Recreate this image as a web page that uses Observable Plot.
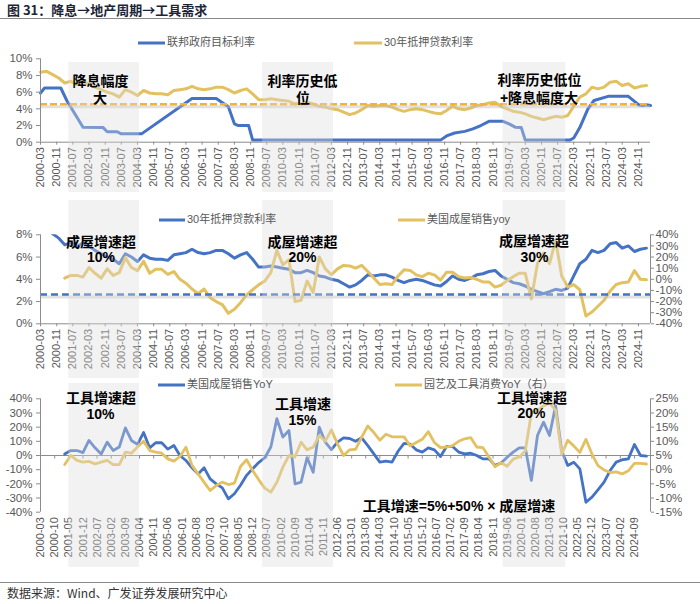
<!DOCTYPE html>
<html><head><meta charset="utf-8">
<script src="https://cdn.jsdelivr.net/npm/d3@7"></script>
<script src="https://cdn.jsdelivr.net/npm/@observablehq/plot@0.6"></script>
<style>
body{margin:0;background:#fff;}
#root{position:relative;width:700px;height:604px;overflow:hidden;font-family:"Liberation Sans",Arial,"Noto Sans CJK SC",sans-serif;}
.panel{position:absolute;left:0;}
.ann{position:absolute;transform:translate(-50%,-50%);font-weight:bold;font-size:14px;color:#000;white-space:nowrap;font-family:"Liberation Sans","Noto Sans CJK SC",sans-serif;line-height:1.2;}
.leg{position:absolute;font-size:11px;color:#595959;white-space:nowrap;font-family:"Liberation Sans","Noto Sans CJK SC",sans-serif;line-height:1.2;transform:translateY(-50%);}
.legline{position:absolute;height:3px;transform:translateY(-50%);}
.hline{position:absolute;left:0;width:700px;height:0;border-top:1.5px solid #8a8a8a;}
</style></head><body><div id="root"></div>
<script>
// ---------- data ----------
const ticksA = ["2000-03","2000-11","2001-07","2002-03","2002-11","2003-07","2004-03","2004-11","2005-07","2006-03","2006-11","2007-07","2008-03","2008-11","2009-07","2010-03","2010-11","2011-07","2012-03","2012-11","2013-07","2014-03","2014-11","2015-07","2016-03","2016-11","2017-07","2018-03","2018-11","2019-07","2020-03","2020-11","2021-07","2022-03","2022-11","2023-07","2024-03","2024-11"];
const ticksB = ["2000-03","2000-10","2001-05","2001-12","2002-07","2003-02","2003-09","2004-04","2004-11","2005-06","2006-01","2006-08","2007-03","2007-10","2008-05","2008-12","2009-07","2010-02","2010-09","2011-04","2011-11","2012-06","2013-01","2013-08","2014-03","2014-10","2015-05","2015-12","2016-07","2017-02","2017-09","2018-04","2018-11","2019-06","2020-01","2020-08","2021-03","2021-10","2022-05","2022-12","2023-07","2024-02","2024-09"];
const shadeStart = ["2001-05","2009-05","2019-04"];
const shadeEnd   = ["2004-04","2012-04","2021-11"];

// Fed funds target rate (%)
const fedDates = ["2000-03","2000-05","2001-01","2001-04","2001-07","2001-09","2001-12","2002-10","2002-12","2003-05","2003-07","2004-05","2006-06","2007-06","2007-12","2008-03","2008-05","2008-10","2008-12","2016-09","2016-12","2017-04","2017-09","2018-01","2018-05","2018-09","2019-04","2019-07","2019-10","2020-01","2020-03","2022-01","2022-03","2022-06","2022-10","2023-01","2023-08","2024-06","2024-11","2025-01","2025-03","2025-05"];
const fedRate  = [5.9,6.5,6.5,5.0,3.8,3.0,1.8,1.75,1.25,1.25,1.0,1.0,5.25,5.25,4.25,2.2,2.0,2.0,0.25,0.25,0.75,1.1,1.3,1.6,2.0,2.5,2.5,2.2,1.8,1.75,0.25,0.25,0.5,1.75,4.0,5.0,5.5,5.5,4.5,4.4,4.5,4.4];

// 30-year mortgage rate (%), quarterly from 2000-03
const mortStart = "2000-03";
const mortRate = [8.4,8.5,8.1,7.7,7.1,7.3,6.9,7.3,7.0,6.6,
 6.3,6.0,5.8,5.4,6.3,6.0,5.6,6.2,5.9,5.8,
 5.8,5.7,6.2,6.3,6.4,6.7,6.4,6.3,6.4,6.6,
 6.6,6.3,5.9,6.2,6.4,5.8,5.1,5.1,5.2,5.1,
 5.0,4.9,4.6,4.6,4.8,4.6,4.3,4.2,4.0,3.9,
 3.6,3.3,3.5,3.9,4.4,4.3,4.4,4.4,4.2,3.9,
 3.7,3.9,4.0,3.9,3.7,3.5,3.4,3.8,4.3,4.0,
 3.9,4.1,4.4,4.5,4.7,4.8,4.3,4.0,3.7,3.6,
 3.4,3.1,2.9,2.7,2.9,3.1,3.0,3.2,4.3,5.4,
 5.8,6.6,6.4,6.6,7.2,7.3,6.8,7.0,6.5,6.7,6.8];

// US existing home sales YoY (%), quarterly from 2001-03
const homeStart = "2001-03";
const homeSales = [1,3.5,3.5,2,10.6,5.4,1,9.4,3.5,6,
 19.5,10.6,7.8,16.2,5.4,9,9,4.5,7,0,
 -3.5,-8.7,-13,-8.7,-16.5,-20,-22.8,-30.6,-27,-21,
 -14,-9.4,-5,-1.6,6,26,13,17.6,-20,-18.8,
 -1.6,-11.8,20,9.4,4.2,9.4,12.5,12,10,12.5,
 7,1.2,-4.7,-4,-4.7,3,8.5,8,4,2.4,
 5.4,4,-0.7,6.4,6.4,2.4,1.2,1.6,0,-2.4,
 -2.4,-7,-5.4,-1.2,2.4,5.4,5.4,-17.6,14.1,23.5,
 14.1,35,3,-7,-4.7,-9.4,-33,-29.4,-24.2,-18.8,
 -10.6,-4.7,-3,-2.4,7.8,0,-0.5];

// Garden & tools consumption YoY (%, right axis), quarterly from 2001-03
const toolStart = "2001-03";
const toolSales = [1.8,5,3.25,2.65,2.9,2.05,2.65,3.25,1.8,1.8,
 6.2,5.8,8,10.05,6.75,6.2,5.8,3.8,3,4.65,
 7.95,1.5,-1.5,-4.5,-7.35,-5.6,-4.4,-5.25,-4.75,1.1,
 3.5,-0.3,-3.5,-6.5,-7.95,-4.4,0.9,5,4.65,9.7,
 7,7.95,12.05,10.05,14.05,9.1,5,7,7.2,11.5,
 15.4,13.1,10.4,12.5,11.6,11.6,11.6,8.4,9.6,10.7,
 13.4,9.6,7.8,8,8.5,10,10.9,11.3,8,7.8,
 4.5,1,2.5,1.2,3.7,4.5,6.6,20,21,22.5,
 23.5,21,5.5,10.4,8.4,6.1,10.7,5.5,1.4,-0.1,
 -1,-0.8,-1.5,-0.4,2.2,2.2,2];

const panel1Ref = 4.55;   // orange dashed reference (%)
const panel2Ref = 2.64;   // blue dashed reference (left %)

// ---------- helpers ----------
const parse = d3.utcParse("%Y-%m");
const fmt = d3.utcFormat("%Y-%m");
const X0 = parse("2000-03"), X1 = parse("2025-05");
const quarterly = (start, vals) => vals.map((v, i) => ({date: d3.utcMonth.offset(parse(start), 3 * i), value: v}));
const fed = fedDates.map((d, i) => ({date: parse(d), value: fedRate[i]}));
const mort = quarterly(mortStart, mortRate);
const home = quarterly(homeStart, homeSales);
const tool = quarterly(toolStart, toolSales);
const shadesFor = (lo, hi) => shadeStart.map((s, i) => ({a: parse(s), b: parse(shadeEnd[i]), lo, hi}));

const BLUE = "#4472c4", GOLD = "#e3c160", AX = "#8c8c8c", TXT = "#595959";
const baseStyle = {fontFamily: "Liberation Sans, Arial, sans-serif", color: TXT, background: "transparent", overflow: "visible"};
const shadeMark = (lo, hi) => Plot.rect(shadesFor(lo, hi), {x1: "a", x2: "b", y1: "lo", y2: "hi", fill: "#dcdcdc", fillOpacity: 0.37});
const xAxisRot = (ticks, size, pad) => Plot.axisX(ticks.map(parse), {tickFormat: fmt, tickRotate: -90, tickSize: size, tickPadding: pad, fontSize: 11, stroke: AX, fill: TXT});

// ---------- panel 1 ----------
const p1 = Plot.plot({
  width: 700, height: 170, marginLeft: 40, marginRight: 50, marginTop: 28.3, marginBottom: 58.3,
  style: baseStyle,
  x: {type: "utc", domain: [X0, X1]},
  y: {domain: [0, 10]},
  marks: [
    Plot.line(mort, {x: "date", y: "value", stroke: GOLD, strokeWidth: 3}),
    Plot.line(fed, {x: "date", y: "value", stroke: BLUE, strokeWidth: 3}),
    Plot.ruleY([panel1Ref - 0.3], {stroke: "#bdbdbd", strokeWidth: 3, strokeOpacity: 0.45}),
    Plot.ruleY([panel1Ref], {stroke: "#f5b335", strokeWidth: 2.5, strokeDasharray: "7,3"}),
    Plot.ruleX([X0], {stroke: AX}),
    Plot.ruleY([0], {stroke: AX}),
    Plot.axisY([0, 2, 4, 6, 8, 10], {tickFormat: d => d + "%", tickSize: 4, tickPadding: 4, fontSize: 11.5, stroke: AX, fill: TXT}),
    xAxisRot(ticksA, 3, 2),
    shadeMark(-6.03, 9.56)
  ]
});

// ---------- panel 2 ----------
const p2 = Plot.plot({
  width: 700, height: 180, marginLeft: 40, marginRight: 50, marginTop: 34.3, marginBottom: 56.7,
  style: baseStyle,
  x: {type: "utc", domain: [X0, X1]},
  y: {domain: [0, 8]},
  marks: [
    Plot.line(mort, {x: "date", y: "value", stroke: BLUE, strokeWidth: 3, clip: true}),
    Plot.line(home, {x: "date", y: d => d.value / 10 + 4, stroke: GOLD, strokeWidth: 3, clip: true}),
    Plot.ruleY([panel2Ref - 0.22], {stroke: "#bdbdbd", strokeWidth: 3, strokeOpacity: 0.45}),
    Plot.ruleY([panel2Ref], {stroke: BLUE, strokeWidth: 2.5, strokeDasharray: "7,4"}),
    Plot.ruleX([X0], {stroke: AX}),
    Plot.ruleX([X1], {stroke: AX}),
    Plot.ruleY([0], {stroke: AX}),
    Plot.axisY([0, 2, 4, 6, 8], {tickFormat: d => d + "%", tickSize: 4, tickPadding: 4, fontSize: 11.5, stroke: AX, fill: TXT}),
    Plot.axisY([0, 1, 2, 3, 4, 5, 6, 7, 8], {anchor: "right", tickFormat: d => Math.round((d - 4) * 10) + "%", tickSize: 3, tickPadding: 2, fontSize: 11.5, stroke: AX, fill: TXT}),
    xAxisRot(ticksA, 3, 2),
    shadeMark(-4.92, 11.08)
  ]
});

// ---------- panel 3 ----------
const p3 = Plot.plot({
  width: 700, height: 200, marginLeft: 40, marginRight: 50, marginTop: 18.3, marginBottom: 68.3,
  style: baseStyle,
  x: {type: "utc", domain: [X0, X1]},
  y: {domain: [-40, 40]},
  marks: [
    Plot.ruleY([0], {stroke: AX}),
    Plot.ruleX(ticksB.map(parse), {y1: 0, y2: -2.5, stroke: AX}),
    Plot.line(home, {x: "date", y: "value", stroke: BLUE, strokeWidth: 2.8}),
    Plot.line(tool, {x: "date", y: d => (d.value - 5) * 2, stroke: GOLD, strokeWidth: 2.8}),
    Plot.ruleX([X0], {stroke: AX}),
    Plot.ruleX([X1], {stroke: AX}),
    Plot.axisY([-40, -30, -20, -10, 0, 10, 20, 30, 40], {tickFormat: d => d + "%", tickSize: 4, tickPadding: 4, fontSize: 11.5, stroke: AX, fill: TXT}),
    Plot.axisY([-40, -30, -20, -10, 0, 10, 20, 30, 40], {anchor: "right", tickFormat: d => (d / 2 + 5) + "%", tickSize: 3, tickPadding: 2, fontSize: 11.5, stroke: AX, fill: TXT}),
    xAxisRot(ticksB, 0, 5),
    shadeMark(-79, 50.8)
  ]
});

// ---------- assemble ----------
const root = document.getElementById("root");
function add(html) { root.insertAdjacentHTML("beforeend", html); }
add(`<div style="position:absolute;left:7px;top:0px;font-size:13px;font-weight:bold;color:#1c2536;font-family:'Noto Sans CJK SC','Liberation Sans',sans-serif;line-height:normal;white-space:nowrap;">图 31：降息→地产周期→工具需求</div>`);
add(`<div class="hline" style="top:18px"></div>`);
[[p1, 30], [p2, 200], [p3, 380]].forEach(([p, top]) => { p.classList.add("panel"); p.style.top = top + "px"; p.style.position = "absolute"; root.appendChild(p); });

function legend(x1, x2, y, color, label) {
  add(`<div class="legline" style="left:${x1}px;width:${x2 - x1}px;top:${y}px;background:${color}"></div>`);
  add(`<div class="leg" style="left:${x2 + 2}px;top:${y}px">${label}</div>`);
}
legend(138, 165, 43, BLUE, "联邦政府目标利率");
legend(354, 382, 43, GOLD, "30年抵押贷款利率");
legend(159, 185, 220, BLUE, "30年抵押贷款利率");
legend(398, 425, 220, GOLD, "美国成屋销售yoy");
legend(158, 185, 385, BLUE, "美国成屋销售YoY");
legend(395, 422, 385, GOLD, "园艺及工具消费YoY（右）");

const anns = [
  ["降息幅度", 100.5, 81], ["大", 100, 97.5],
  ["利率历史低", 302.5, 81], ["位", 303, 97.7],
  ["利率历史低位", 539.5, 80], ["+降息幅度大", 539, 97.7],
  ["成屋增速超", 101, 241.7], ["10%", 101, 257.3],
  ["成屋增速超", 302.5, 241.7], ["20%", 302.5, 257],
  ["成屋增速超", 534, 240.7], ["30%", 534.5, 257],
  ["工具增速超", 101, 398], ["10%", 100.5, 414],
  ["工具增速", 303, 404], ["15%", 302.5, 420],
  ["工具增速超", 532, 398.3], ["20%", 531.5, 413],
  ["工具增速=5%+50% × 成屋增速", 459, 506]
];
anns.forEach(([t, x, y]) => add(`<div class="ann" style="left:${x}px;top:${y}px">${t}</div>`));

add(`<div class="hline" style="top:582px"></div>`);
add(`<div style="position:absolute;left:7px;top:585px;font-size:12px;color:#333;font-family:'Noto Sans CJK SC','Liberation Sans',sans-serif;line-height:16px;white-space:nowrap;">数据来源：Wind、广发证券发展研究中心</div>`);
</script></body></html>
